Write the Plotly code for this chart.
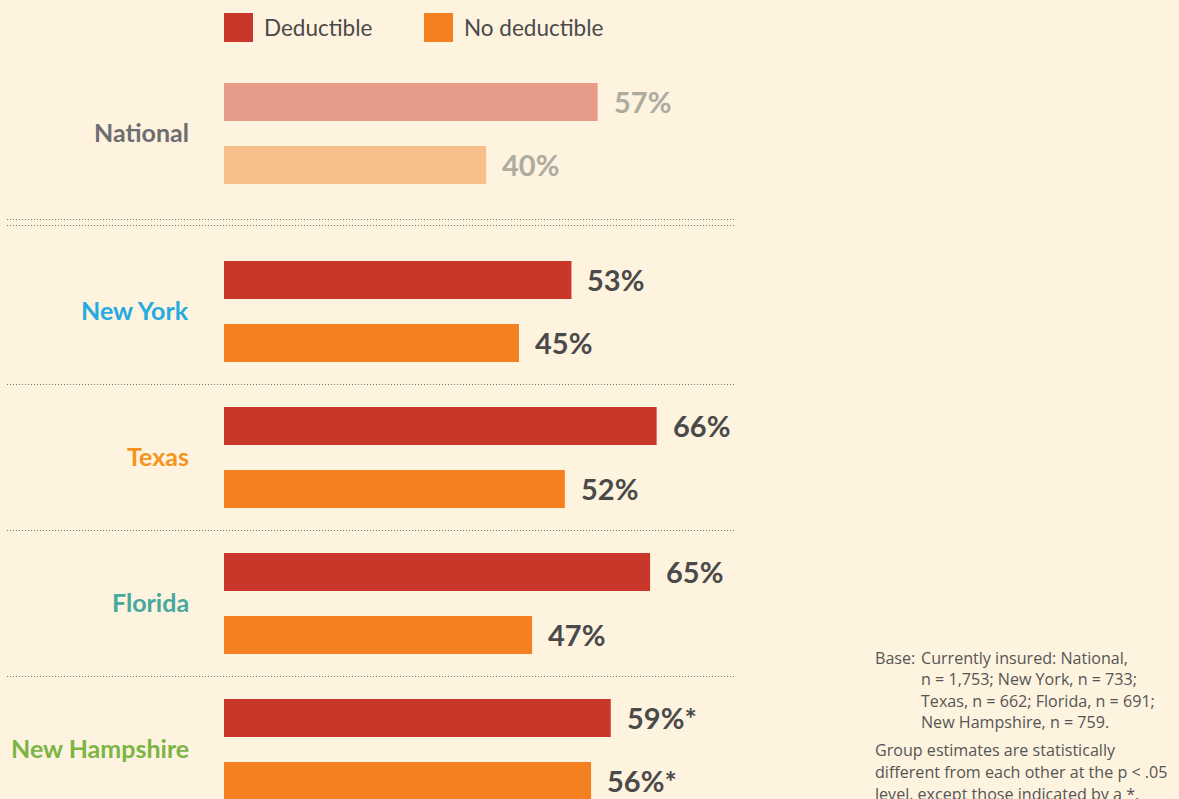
import plotly.graph_objects as go

# ---- data ----
groups = ["National", "New York", "Texas", "Florida", "New Hampshire"]
deductible = [57, 53, 66, 65, 59]
no_deductible = [40, 45, 52, 47, 56]
not_significant = [False, False, False, False, True]  # marked with *

group_colors = ["#6d6e71", "#27aae1", "#f7941d", "#45a99c", "#7cb545"]
ded_colors = ["#e69c89", "#c8372a", "#c8372a", "#c8372a", "#c8372a"]
nod_colors = ["#f7c08a", "#f58020", "#f58020", "#f58020", "#f58020"]
label_colors = ["#aeaba0", "#4a4a4a", "#4a4a4a", "#4a4a4a", "#4a4a4a"]

W, H = 1179, 799
BG = "#fef3de"
PX_PER_UNIT = 6.555
X0_PX = 224

# layout positions (pixel-like y units, reversed axis)
centers = []
for i in range(len(groups)):
    if i == 0:
        centers.append(133.5)
    else:
        centers.append(133.5 + 178 + 146 * (i - 1))
off = 31.5
y_ded = [c - off for c in centers]
y_nod = [c + off for c in centers]

fig = go.Figure()
fig.add_trace(go.Bar(x=deductible, y=y_ded, orientation="h", width=38,
                     marker=dict(color=ded_colors, line=dict(width=0)),
                     name="Deductible", hoverinfo="skip"))
fig.add_trace(go.Bar(x=no_deductible, y=y_nod, orientation="h", width=38,
                     marker=dict(color=nod_colors, line=dict(width=0)),
                     name="No deductible", hoverinfo="skip"))

annotations = []
for i, g in enumerate(groups):
    star = "*" if not_significant[i] else ""
    for v, y in ((deductible[i], y_ded[i]), (no_deductible[i], y_nod[i])):
        annotations.append(dict(x=v, y=y, xref="x", yref="y", text=f"{v}%{star}",
                                showarrow=False, xanchor="left", yanchor="middle",
                                xshift=14, yshift=1,
                                font=dict(family="Lato", size=29, color=label_colors[i],
                                          weight="bold")))
    annotations.append(dict(x=191 / W, y=centers[i], xref="paper", yref="y", text=g,
                            showarrow=False, xanchor="right", yanchor="middle", yshift=2,
                            font=dict(family="Lato", size=25, color=group_colors[i],
                                      weight="bold")))

shapes = []
# separators
seps = [(centers[0] + centers[1]) / 2 - 3, (centers[0] + centers[1]) / 2 + 3]
for i in range(1, len(groups) - 1):
    seps.append((centers[i] + centers[i + 1]) / 2)
for s in seps:
    shapes.append(dict(type="line", xref="paper", yref="y", x0=7 / W, x1=736 / W,
                       y0=s, y1=s, line=dict(color="#7a7770", width=1, dash="1px,2px")))

# legend
legend_items = [("Deductible", "#c8372a", 224), ("No deductible", "#f58020", 424)]
for name, col, xpx in legend_items:
    shapes.append(dict(type="rect", xref="paper", yref="y", x0=xpx / W, x1=(xpx + 29) / W,
                       y0=13, y1=42, fillcolor=col, line=dict(width=0)))
    annotations.append(dict(x=(xpx + 38) / W, y=27, xref="paper", yref="y", text=name,
                            showarrow=False, xanchor="left", yanchor="middle",
                            font=dict(family="Lato", size=22.5, color="#4a4a4a")))

# notes
note_font = dict(family="Open Sans", size=16.1, color="#555555")
annotations.append(dict(x=873 / W, y=658, xref="paper", yref="y", text="Base:",
                        showarrow=False, xanchor="left", yanchor="middle", font=note_font))
base_lines = ["Currently insured: National,", "n = 1,753; New York, n = 733;",
              "Texas, n = 662; Florida, n = 691;", "New Hampshire, n = 759."]
for k, t in enumerate(base_lines):
    annotations.append(dict(x=919 / W, y=658 + 21.3 * k, xref="paper", yref="y",
                            text=t, showarrow=False, xanchor="left", yanchor="middle",
                            font=note_font))
note2 = ["Group estimates are statistically", "different from each other at the p < .05",
         "level, except those indicated by a *."]
for k, t in enumerate(note2):
    annotations.append(dict(x=873 / W, y=750 + 21.8 * k, xref="paper", yref="y",
                            text=t, showarrow=False, xanchor="left", yanchor="middle",
                            font=note_font))

fig.update_layout(
    width=W, height=H,
    margin=dict(l=0, r=0, t=0, b=0),
    paper_bgcolor=BG, plot_bgcolor=BG,
    barmode="overlay", showlegend=False,
    xaxis=dict(range=[-X0_PX / PX_PER_UNIT, (W - X0_PX) / PX_PER_UNIT], visible=False,
               fixedrange=True),
    yaxis=dict(range=[H, 0], visible=False, fixedrange=True),
    annotations=annotations, shapes=shapes,
)

fig.write_html("out.html")
